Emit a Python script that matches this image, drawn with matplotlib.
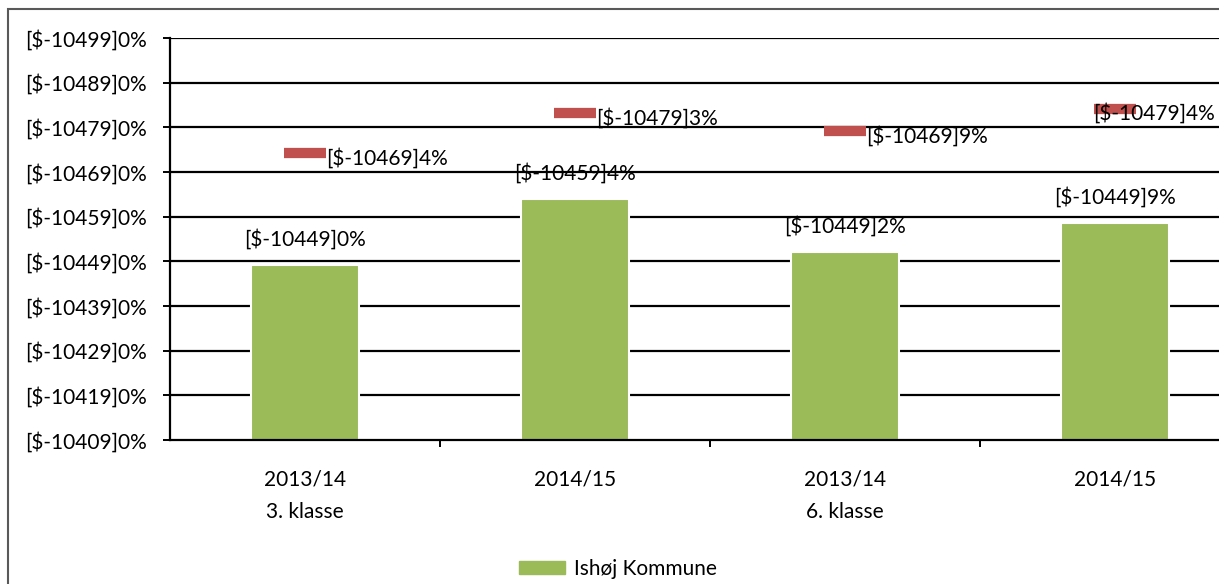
import numpy as np
import matplotlib.pyplot as plt
from matplotlib.patches import Patch, Rectangle

plt.rcParams['font.family'] = ['Lato', 'DejaVu Sans']

# categories and values
categories = ['2013/14\n3. klasse', '2014/15', '2013/14\n6. klasse', '2014/15']
ishoj = [39.2, 54.0, 42.1, 48.6]
ishoj_labels = ['[$-10449]0%', '[$-10459]4%', '[$-10449]2%', '[$-10449]9%']
landet = [64.3, 73.2, 69.2, 74.1]
landet_labels = ['[$-10469]4%', '[$-10479]3%', '[$-10469]9%', '[$-10479]4%']
yticks = [0, 10, 20, 30, 40, 50, 60, 70, 80, 90]
ytick_labels = ['[$-104%d9]0%%' % (t // 10) for t in yticks]

green = '#9BBB59'
red = '#C0504D'
fs = 15

W, H = 1219, 584
fig = plt.figure(figsize=(W / 100, H / 100), dpi=100)
ax = fig.add_axes([170 / W, (H - 440) / H, 1080 / W, (440 - 38) / H])

x = np.arange(len(categories))

# grid behind bars
for t in yticks[1:]:
    ax.axhline(t, color='black', lw=1.6, zorder=0)

ax.bar(x, ishoj, width=0.4, color=green, edgecolor='white', lw=1.5, zorder=2)

half = 0.076
ax.hlines(landet, x - half, x + half, colors=red, lw=7.4, capstyle='butt', zorder=3)

for i, (v, lab) in enumerate(zip(ishoj, ishoj_labels)):
    ax.annotate(lab, (x[i], v), xytext=(0, 26), textcoords='offset pixels',
                ha='center', va='center', fontsize=fs, zorder=4)

for i, (v, lab) in enumerate(zip(landet, landet_labels)):
    if i == 3:
        ax.annotate(lab, (x[i] - half, v), xytext=(-1, -4), textcoords='offset pixels',
                    ha='left', va='center', fontsize=fs, zorder=4)
    else:
        ax.annotate(lab, (x[i] + half, v), xytext=(1, -5), textcoords='offset pixels',
                    ha='left', va='center', fontsize=fs, zorder=4)

ax.set_xlim(-0.5, 3.5)
ax.set_ylim(0, 90)
ax.set_yticks(yticks)
ax.set_yticklabels(ytick_labels, fontsize=fs)
ax.tick_params(axis='y', length=5, width=1.4, pad=12)

ax.set_xticks(x)
ax.set_xticklabels(categories, fontsize=fs, linespacing=1.8)
ax.tick_params(axis='x', length=0, pad=21)
ax.set_xticks([0.5, 1.5, 2.5], minor=True)
ax.tick_params(axis='x', which='minor', length=5, width=1.4, direction='out')

for s in ['top', 'right']:
    ax.spines[s].set_visible(False)
for s in ['left', 'bottom']:
    ax.spines[s].set_linewidth(1.6)
    ax.spines[s].set_zorder(5)

fig.legend(handles=[Patch(color=green, label='Ishøj Kommune')],
           loc='center', bbox_to_anchor=(618 / W, 1 - 569 / H), frameon=False,
           fontsize=fs, handlelength=2.2, handleheight=0.6, handletextpad=0.4)

# chart border
fig.patches.append(Rectangle((8 / W, -0.1), 1.2, (H - 9) / H + 0.1, fill=False,
                             edgecolor='#595959', lw=1.5, transform=fig.transFigure))

fig.savefig('out.png', dpi=100)
